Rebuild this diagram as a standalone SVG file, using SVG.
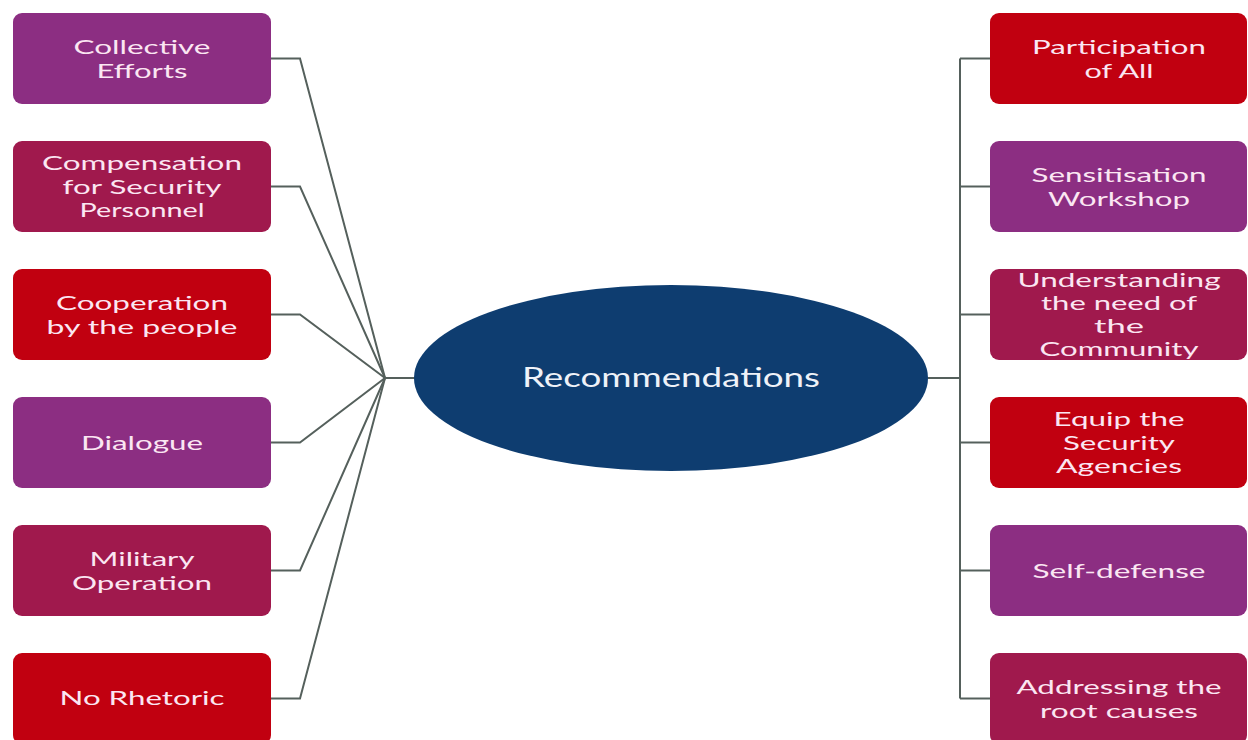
<svg xmlns="http://www.w3.org/2000/svg" width="1248" height="740" viewBox="0 0 1248 740">
<style>
.box{stroke:none}
.purple{fill:#8C2E82}
.crimson{fill:#A0194D}
.red{fill:#C10010}
.t{font-family:Lato,"Liberation Sans",sans-serif;font-size:20px;fill:#FBE6F2;text-anchor:middle}
.c{fill:none;stroke:#55605C;stroke-width:2}
</style>
<rect width="1248" height="740" fill="#FFFFFF"/>
<g id="connectors">
<polyline class="c" points="271,58.5 300,58.5 385,378"/>
<polyline class="c" points="271,186.5 300,186.5 385,378"/>
<polyline class="c" points="271,314.5 300,314.5 385,378"/>
<polyline class="c" points="271,442.5 300,442.5 385,378"/>
<polyline class="c" points="271,570.5 300,570.5 385,378"/>
<polyline class="c" points="271,698.5 300,698.5 385,378"/>
<line class="c" x1="385" y1="378" x2="415" y2="378"/>
<line class="c" x1="928" y1="378" x2="960" y2="378"/>
<line class="c" x1="960" y1="58.5" x2="960" y2="698.5"/>
<line class="c" x1="960" y1="58.5" x2="990" y2="58.5"/>
<line class="c" x1="960" y1="186.5" x2="990" y2="186.5"/>
<line class="c" x1="960" y1="314.5" x2="990" y2="314.5"/>
<line class="c" x1="960" y1="442.5" x2="990" y2="442.5"/>
<line class="c" x1="960" y1="570.5" x2="990" y2="570.5"/>
<line class="c" x1="960" y1="698.5" x2="990" y2="698.5"/>
</g>
<g id="center">
<ellipse cx="671" cy="378" rx="257" ry="93" fill="#0E3D70"/>
<text x="671" y="387" font-family="Lato,'Liberation Sans',sans-serif" font-size="26" fill="#EEF2F8" text-anchor="middle" textLength="298" lengthAdjust="spacingAndGlyphs">Recommendations</text>
</g>
<g id="collective-efforts">
<rect class="box purple" x="13" y="13" width="258" height="91" rx="9"/>
<text class="t" x="142" y="53.5" textLength="137" lengthAdjust="spacingAndGlyphs">Collective</text>
<text class="t" x="142" y="77.5" textLength="91" lengthAdjust="spacingAndGlyphs">Efforts</text>
</g>
<g id="compensation">
<rect class="box crimson" x="13" y="141" width="258" height="91" rx="9"/>
<text class="t" x="142" y="170" textLength="200" lengthAdjust="spacingAndGlyphs">Compensation</text>
<text class="t" x="142" y="193.5" textLength="159" lengthAdjust="spacingAndGlyphs">for Security</text>
<text class="t" x="142" y="217" textLength="125" lengthAdjust="spacingAndGlyphs">Personnel</text>
</g>
<g id="cooperation">
<rect class="box red" x="13" y="269" width="258" height="91" rx="9"/>
<text class="t" x="142" y="309.5" textLength="172" lengthAdjust="spacingAndGlyphs">Cooperation</text>
<text class="t" x="142" y="333.5" textLength="191" lengthAdjust="spacingAndGlyphs">by the people</text>
</g>
<g id="dialogue">
<rect class="box purple" x="13" y="397" width="258" height="91" rx="9"/>
<text class="t" x="142" y="449.5" textLength="122" lengthAdjust="spacingAndGlyphs">Dialogue</text>
</g>
<g id="military-operation">
<rect class="box crimson" x="13" y="525" width="258" height="91" rx="9"/>
<text class="t" x="142" y="565.5" textLength="105" lengthAdjust="spacingAndGlyphs">Military</text>
<text class="t" x="142" y="589.5" textLength="140" lengthAdjust="spacingAndGlyphs">Operation</text>
</g>
<g id="no-rhetoric">
<rect class="box red" x="13" y="653" width="258" height="91" rx="9"/>
<text class="t" x="142" y="704.5" textLength="165" lengthAdjust="spacingAndGlyphs">No Rhetoric</text>
</g>
<g id="participation">
<rect class="box red" x="990" y="13" width="257" height="91" rx="9"/>
<text class="t" x="1119" y="53.5" textLength="174" lengthAdjust="spacingAndGlyphs">Participation</text>
<text class="t" x="1119" y="77.5" textLength="69" lengthAdjust="spacingAndGlyphs">of All</text>
</g>
<g id="sensitisation">
<rect class="box purple" x="990" y="141" width="257" height="91" rx="9"/>
<text class="t" x="1119" y="181.5" textLength="175" lengthAdjust="spacingAndGlyphs">Sensitisation</text>
<text class="t" x="1119" y="205.5" textLength="142" lengthAdjust="spacingAndGlyphs">Workshop</text>
</g>
<g id="understanding">
<rect class="box crimson" x="990" y="269" width="257" height="91" rx="9"/>
<text class="t" x="1119" y="287" textLength="203" lengthAdjust="spacingAndGlyphs">Understanding</text>
<text class="t" x="1119" y="310" textLength="156" lengthAdjust="spacingAndGlyphs">the need of</text>
<text class="t" x="1119" y="333" textLength="50" lengthAdjust="spacingAndGlyphs">the</text>
<text class="t" x="1119" y="356" textLength="159" lengthAdjust="spacingAndGlyphs">Community</text>
</g>
<g id="equip">
<rect class="box red" x="990" y="397" width="257" height="91" rx="9"/>
<text class="t" x="1119" y="426" textLength="131" lengthAdjust="spacingAndGlyphs">Equip the</text>
<text class="t" x="1119" y="449.5" textLength="112" lengthAdjust="spacingAndGlyphs">Security</text>
<text class="t" x="1119" y="473" textLength="126" lengthAdjust="spacingAndGlyphs">Agencies</text>
</g>
<g id="self-defense">
<rect class="box purple" x="990" y="525" width="257" height="91" rx="9"/>
<text class="t" x="1119" y="577.5" textLength="173" lengthAdjust="spacingAndGlyphs">Self-defense</text>
</g>
<g id="root-causes">
<rect class="box crimson" x="990" y="653" width="257" height="91" rx="9"/>
<text class="t" x="1119" y="693.5" textLength="205" lengthAdjust="spacingAndGlyphs">Addressing the</text>
<text class="t" x="1119" y="717.5" textLength="158" lengthAdjust="spacingAndGlyphs">root causes</text>
</g>
</svg>
